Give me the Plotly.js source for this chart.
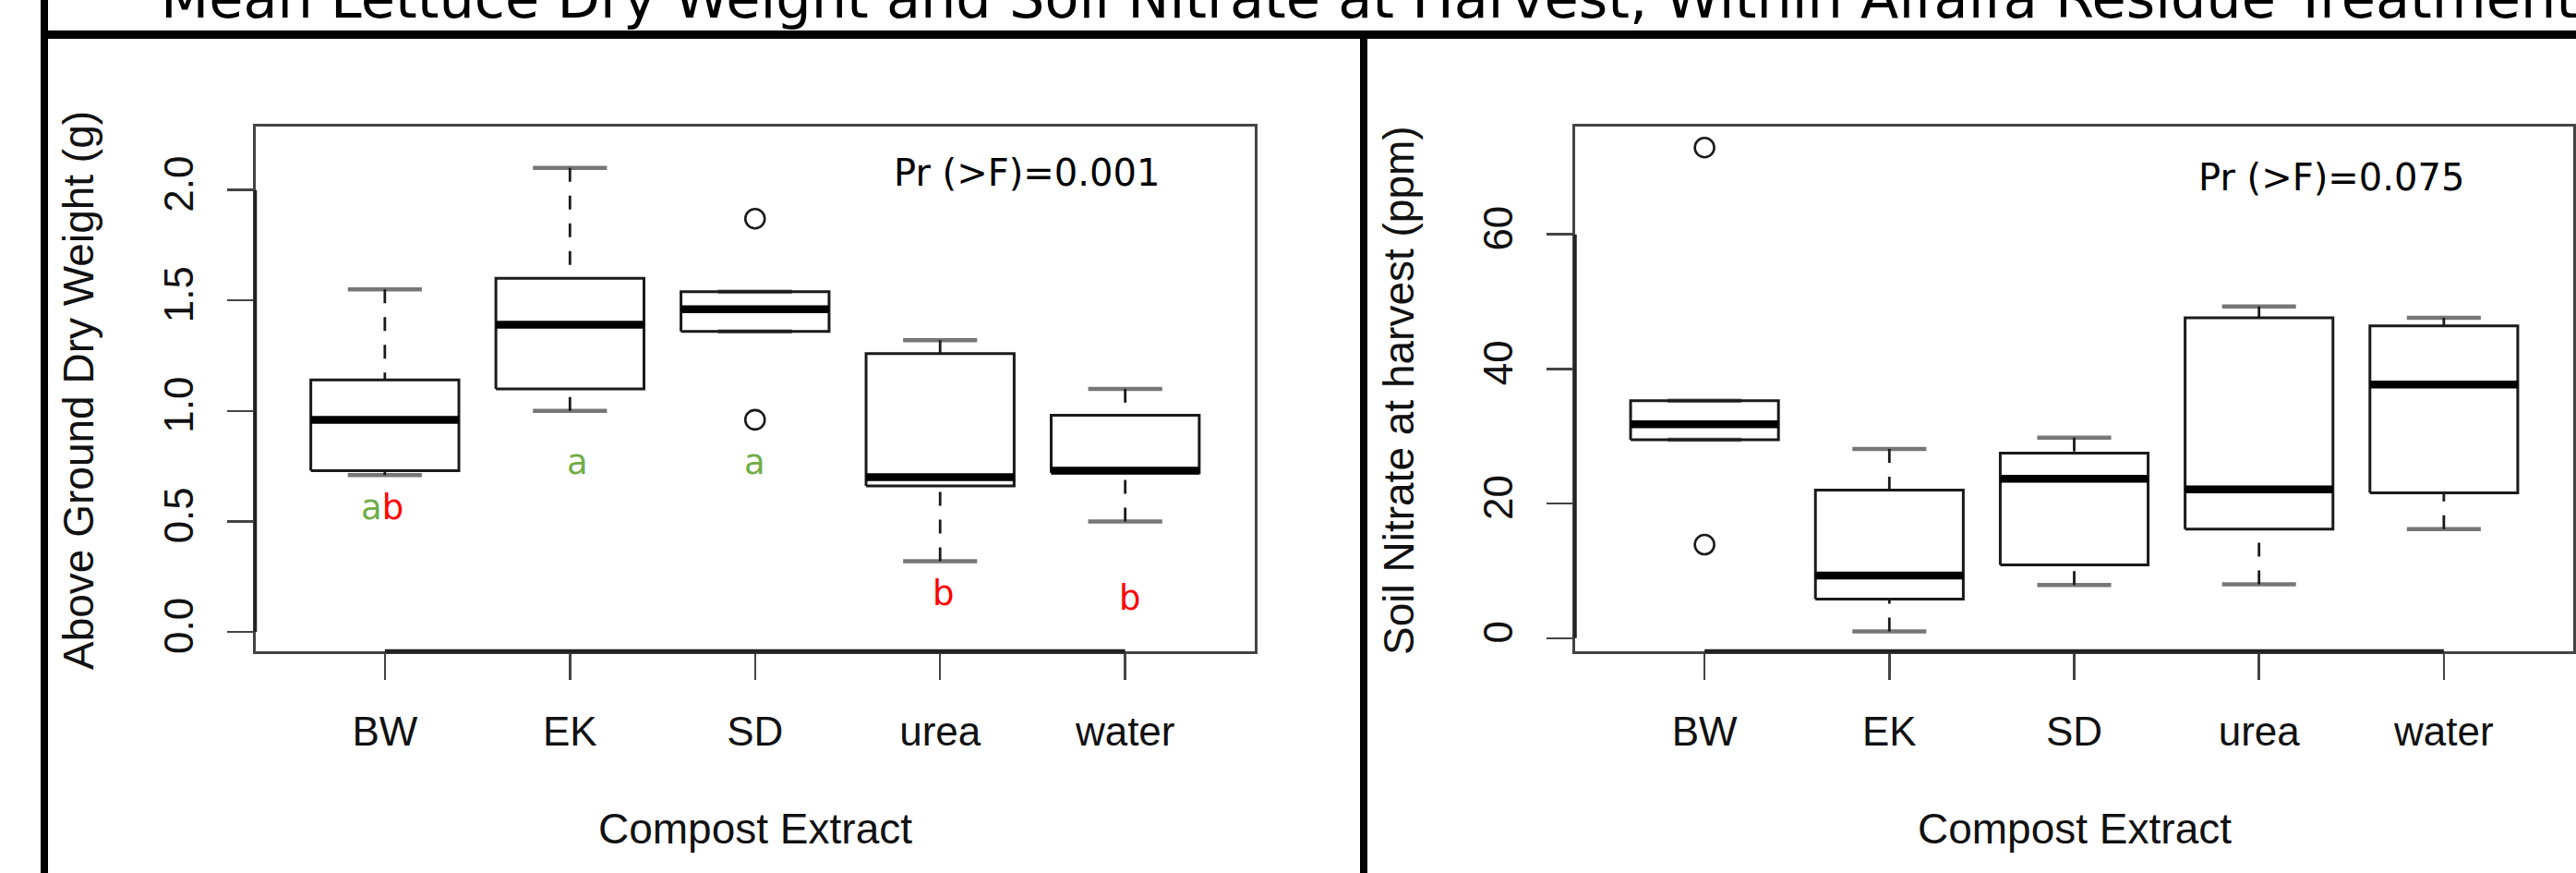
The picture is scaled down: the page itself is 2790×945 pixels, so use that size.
<!DOCTYPE html>
<html><head><meta charset="utf-8">
<script src="https://cdn.plot.ly/plotly-3.0.1.min.js"></script>
<style>html,body{margin:0;padding:0;background:#fff;overflow:hidden}#chart{width:2790px;height:945px}</style>
</head><body><div id="chart"></div>
<script>
// ---------- data ----------
const categories = ['BW', 'EK', 'SD', 'urea', 'water'];

// Left panel: Above Ground Dry Weight (g)
const dryLowerWhisker = [0.71, 1.00, 1.36, 0.32, 0.50];
const dryQ1           = [0.73, 1.10, 1.36, 0.66, 0.72];
const dryMedian       = [0.96, 1.39, 1.46, 0.70, 0.73];
const dryQ3           = [1.14, 1.60, 1.54, 1.26, 0.98];
const dryUpperWhisker = [1.55, 2.10, 1.54, 1.32, 1.10];
const dryOutlierGroup = ['SD', 'SD'];
const dryOutlierValue = [1.87, 0.96];
const greenLetters = ['a', 'a', 'a', '', ''];
const redLetters   = ['b', '', '', 'b', 'b'];

// Right panel: Soil Nitrate at harvest (ppm)
const nitLowerWhisker = [29.5, 1.0, 7.9, 8.0, 16.2];
const nitQ1           = [29.5, 5.8, 10.9, 16.2, 21.6];
const nitMedian       = [31.8, 9.3, 23.7, 22.1, 37.7];
const nitQ3           = [35.3, 22.0, 27.5, 47.6, 46.4];
const nitUpperWhisker = [35.3, 28.1, 29.8, 49.3, 47.6];
const nitOutlierGroup = ['BW', 'BW'];
const nitOutlierValue = [72.9, 13.9];

const pValues = ['0.001', '0.075'];
const dryTicks = [0, 0.5, 1.0, 1.5, 2.0];
const nitTicks = [0, 20, 40, 60];
const mainTitle = 'Mean Lettuce Dry Weight and Soil Nitrate at Harvest, Within Alfalfa Residue Treatments';
const xTitle = 'Compost Extract';
const yTitles = ['Above Ground Dry Weight (g)', 'Soil Nitrate at harvest (ppm)'];

// ---------- build ----------
const W = 2790, H = 945;
const pos = categories.map((c, i) => i + 1);
const BOXHALF = 0.4, STAPLEHALF = 0.2;

function boxTraces(xa, ya, lo, q1, med, q3, hi, outG, outV) {
  const st = {x: [], y: []}, wh = {x: [], y: []}, bx = {x: [], y: []}, md = {x: [], y: []};
  pos.forEach((p, i) => {
    st.x.push(p - STAPLEHALF, p + STAPLEHALF, null, p - STAPLEHALF, p + STAPLEHALF, null);
    st.y.push(lo[i], lo[i], null, hi[i], hi[i], null);
    if (lo[i] < q1[i]) { wh.x.push(p, p, null); wh.y.push(lo[i], q1[i], null); }
    if (hi[i] > q3[i]) { wh.x.push(p, p, null); wh.y.push(hi[i], q3[i], null); }
    bx.x.push(p - BOXHALF, p + BOXHALF, p + BOXHALF, p - BOXHALF, p - BOXHALF, null);
    bx.y.push(q1[i], q1[i], q3[i], q3[i], q1[i], null);
    md.x.push(p - BOXHALF, p + BOXHALF, null);
    md.y.push(med[i], med[i], null);
  });
  const common = {xaxis: xa, yaxis: ya, mode: 'lines', hoverinfo: 'skip', showlegend: false, connectgaps: false};
  return [
    Object.assign({}, common, st, {line: {color: '#777', width: 4.5}}),
    Object.assign({}, common, wh, {line: {color: '#1a1a1a', width: 2.8, dash: '15px,15px'}}),
    Object.assign({}, common, bx, {line: {color: '#1a1a1a', width: 3}}),
    Object.assign({}, common, md, {line: {color: '#000', width: 8.5}}),
    {xaxis: xa, yaxis: ya, mode: 'markers', showlegend: false, hoverinfo: 'skip',
     x: outG.map(g => categories.indexOf(g) + 1), y: outV,
     marker: {symbol: 'circle-open', size: 21, color: '#1a1a1a', line: {width: 2.6, color: '#1a1a1a'}}}
  ];
}

const data = [].concat(
  boxTraces('x', 'y', dryLowerWhisker, dryQ1, dryMedian, dryQ3, dryUpperWhisker, dryOutlierGroup, dryOutlierValue),
  boxTraces('x2', 'y2', nitLowerWhisker, nitQ1, nitMedian, nitQ3, nitUpperWhisker, nitOutlierGroup, nitOutlierValue)
);

const tickFont = {family: 'Liberation Sans, Arial, sans-serif', size: 44, color: '#111'};
function xAxis(d0, d1, anchor) {
  return {domain: [d0 / W, d1 / W], range: [0.3, 5.7], anchor: anchor, tickmode: 'array', tickvals: pos, ticktext: categories,
    ticks: 'outside', ticklen: 28, tickwidth: 2.5, tickcolor: '#444', ticklabelstandoff: 18,
    showline: true, linewidth: 3, linecolor: '#444', mirror: true, showgrid: false, zeroline: false,
    tickfont: tickFont, fixedrange: true};
}
function yAxis(range, ticks, fmt, anchor) {
  return {domain: [1 - 705 / H, 1 - 136.8 / H], range: range, anchor: anchor, tickmode: 'array', tickvals: ticks,
    ticktext: ticks.map(v => fmt(v)),
    tickangle: -90, ticks: 'outside', ticklen: 28, tickwidth: 2.5, tickcolor: '#444', ticklabelstandoff: 19,
    showline: true, linewidth: 3, linecolor: '#444', mirror: true, showgrid: false, zeroline: false,
    tickfont: tickFont, fixedrange: true};
}

const labFont = {family: 'Liberation Sans, Arial, sans-serif', size: 46, color: '#111'};
const calFont = {family: 'DejaVu Sans, sans-serif', size: 40, color: '#000'};
const annotations = [
  {xref: 'paper', yref: 'paper', x: 818 / W, y: 1 - 897 / H, text: xTitle, showarrow: false, font: labFont, xanchor: 'center', yanchor: 'middle'},
  {xref: 'paper', yref: 'paper', x: 2247 / W, y: 1 - 897 / H, text: xTitle, showarrow: false, font: labFont, xanchor: 'center', yanchor: 'middle'},
  {xref: 'paper', yref: 'paper', x: 85 / W, y: 1 - 423 / H, text: yTitles[0], textangle: -90, showarrow: false, font: labFont, xanchor: 'center', yanchor: 'middle'},
  {xref: 'paper', yref: 'paper', x: 1515 / W, y: 1 - 423 / H, text: yTitles[1], textangle: -90, showarrow: false, font: labFont, xanchor: 'center', yanchor: 'middle'},
  {xref: 'paper', yref: 'paper', x: 1112 / W, y: 1 - 187 / H, text: 'Pr (>F)=' + pValues[0], showarrow: false, font: calFont, xanchor: 'center', yanchor: 'middle'},
  {xref: 'paper', yref: 'paper', x: 2525 / W, y: 1 - 192 / H, text: 'Pr (>F)=' + pValues[1], showarrow: false, font: calFont, xanchor: 'center', yanchor: 'middle'}
];
// significance letters (placement in layout only)
const letterDx = [-0.015, 0.04, 0.0, 0.02, 0.025];
const letterYpos = [0.561, 0.768, 0.768, 0.175, 0.154];
categories.forEach((c, i) => {
  let t = '';
  if (greenLetters[i]) t += '<span style="color:#70AD47">' + greenLetters[i] + '</span>';
  if (redLetters[i]) t += '<span style="color:#FF0000">' + redLetters[i] + '</span>';
  annotations.push({xref: 'x', yref: 'y', x: pos[i] + letterDx[i], y: letterYpos[i], text: t, showarrow: false,
    font: {family: 'DejaVu Sans, sans-serif', size: 37, color: '#000'}, xanchor: 'center', yanchor: 'middle'});
});

const shapes = [
  {type: 'line', xref: 'paper', yref: 'paper', x0: 48 / W, x1: 48 / W, y0: 0, y1: 1, line: {color: '#000', width: 8}},
  {type: 'line', xref: 'paper', yref: 'paper', x0: 44 / W, x1: 1, y0: 1 - 37.5 / H, y1: 1 - 37.5 / H, line: {color: '#000', width: 9}},
  {type: 'line', xref: 'paper', yref: 'paper', x0: 1477 / W, x1: 1477 / W, y0: 0, y1: 1 - 33 / H, line: {color: '#000', width: 8}},
  // R axis lines (first to last tick), drawn over the frame
  {type: 'line', xref: 'x', yref: 'y domain', x0: pos[0], x1: pos[pos.length - 1], y0: 0, y1: 0, line: {color: '#222', width: 4.5}},
  {type: 'line', xref: 'x domain', yref: 'y', x0: 0, x1: 0, y0: dryTicks[0], y1: dryTicks[dryTicks.length - 1], line: {color: '#222', width: 3.5}},
  {type: 'line', xref: 'x2', yref: 'y2 domain', x0: pos[0], x1: pos[pos.length - 1], y0: 0, y1: 0, line: {color: '#222', width: 4.5}},
  {type: 'line', xref: 'x2 domain', yref: 'y2', x0: 0, x1: 0, y0: nitTicks[0], y1: nitTicks[nitTicks.length - 1], line: {color: '#222', width: 3.5}}
];

const layout = {
  width: W, height: H, margin: {l: 0, r: 0, t: 0, b: 0}, paper_bgcolor: '#fff', plot_bgcolor: '#fff', showlegend: false,
  title: {text: mainTitle, font: {family: 'DejaVu Sans, sans-serif', size: 60.5, color: '#000'},
          x: 174 / W, xanchor: 'left', xref: 'paper', y: 1 - 19 / H, yanchor: 'bottom', yref: 'container'},
  xaxis: xAxis(276.5, 1359, 'y'), yaxis: yAxis([-0.088, 2.288], dryTicks, v => v.toFixed(1), 'x'),
  xaxis2: xAxis(1706, 2787, 'y2'), yaxis2: yAxis([-1.95, 76.05], nitTicks, v => String(v), 'x2'),
  annotations: annotations, shapes: shapes
};

Plotly.newPlot('chart', data, layout, {staticPlot: true, displayModeBar: false});
</script></body></html>
